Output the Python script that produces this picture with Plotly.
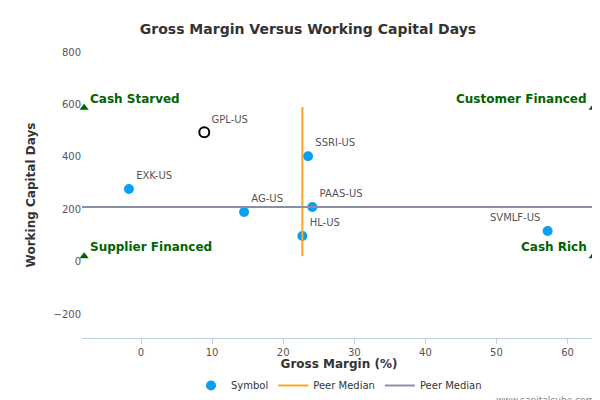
import plotly.graph_objects as go

names = ["SSRI-US", "EXK-US", "AG-US", "PAAS-US", "HL-US", "SVMLF-US"]
gm = [23.5, -1.7, 14.5, 24.1, 22.7, 57.2]
wcd = [403, 278, 190, 209, 99, 118]
label_pos = ["top right", "top right", "top right", "top right", "top right", "top left"]
focus_name = ["GPL-US"]
focus_gm = [8.9]
focus_wcd = [494]
median_gm = 22.7
median_wcd = 209
xr = [-8.3, 64]
yr = [-290, 800]
corner_x = [-8.0, -8.0, 63.6, 63.6]
corner_y = [588, 22, 588, 22]
corner_text = ["Cash Starved", "Supplier Financed", "Customer Financed", "Cash Rich"]

fig = go.Figure()
fig.add_trace(go.Scatter(x=gm, y=wcd, mode="markers+text", text=names, textposition=label_pos,
    textfont=dict(size=10, color="#555"), marker=dict(size=10, color="#0aa0f0"), name="Symbol"))
fig.add_trace(go.Scatter(x=focus_gm, y=focus_wcd, mode="markers+text", text=focus_name, textposition="top right",
    textfont=dict(size=10, color="#555"), marker=dict(size=10, color="white", line=dict(color="black", width=2)),
    showlegend=False))
fig.add_trace(go.Scatter(x=[median_gm, median_gm], y=[22, 590], mode="lines", line=dict(color="#f5a623", width=2),
    name="Peer Median"))
fig.add_trace(go.Scatter(x=xr, y=[median_wcd, median_wcd], mode="lines", line=dict(color="#8a8fa8", width=2),
    name="Peer Median"))
fig.add_trace(go.Scatter(x=corner_x, y=corner_y, mode="markers", marker=dict(symbol="triangle-up", size=8, color="#006400"),
    showlegend=False, cliponaxis=False))
for i, t in enumerate(corner_text):
    left = corner_x[i] < 0
    fig.add_annotation(x=corner_x[i], y=corner_y[i], text="<b>"+t+"</b>", showarrow=False,
        xanchor="left" if left else "right", yanchor="bottom", xshift=4 if left else -4,
        font=dict(size=12, color="#006400"))

fig.update_layout(
    width=600, height=400, plot_bgcolor="white", paper_bgcolor="white",
    font=dict(family="DejaVu Sans", size=10, color="#555"),
    title=dict(text="<b>Gross Margin Versus Working Capital Days</b>", x=0.5, y=0.96, font=dict(size=14, color="#333")),
    margin=dict(l=74, r=12, t=44, b=70, autoexpand=False),
    xaxis=dict(range=xr, title=dict(text="<b>Gross Margin (%)</b>", font=dict(size=12, color="#333"), standoff=4),
        tickvals=[0, 10, 20, 30, 40, 50, 60], showgrid=False, zeroline=False, showline=True, linecolor="#c0d0e0",
        ticks="outside", ticklen=5, tickcolor="#c0d0e0"),
    yaxis=dict(range=yr, title=dict(text="<b>Working Capital Days</b>", font=dict(size=12, color="#333")),
        tickvals=[-200, 0, 200, 400, 600, 800], showgrid=False, zeroline=False),
    legend=dict(orientation="h", x=0.5, xanchor="center", yref="container", y=0.02, yanchor="bottom", font=dict(size=10, color="#333")),
)
fig.add_annotation(text="www.capitalcube.com", xref="paper", yref="paper", x=1.0, y=-0.24, showarrow=False,
    xanchor="right", font=dict(size=9, color="#888"))
fig.write_html("out.html")
